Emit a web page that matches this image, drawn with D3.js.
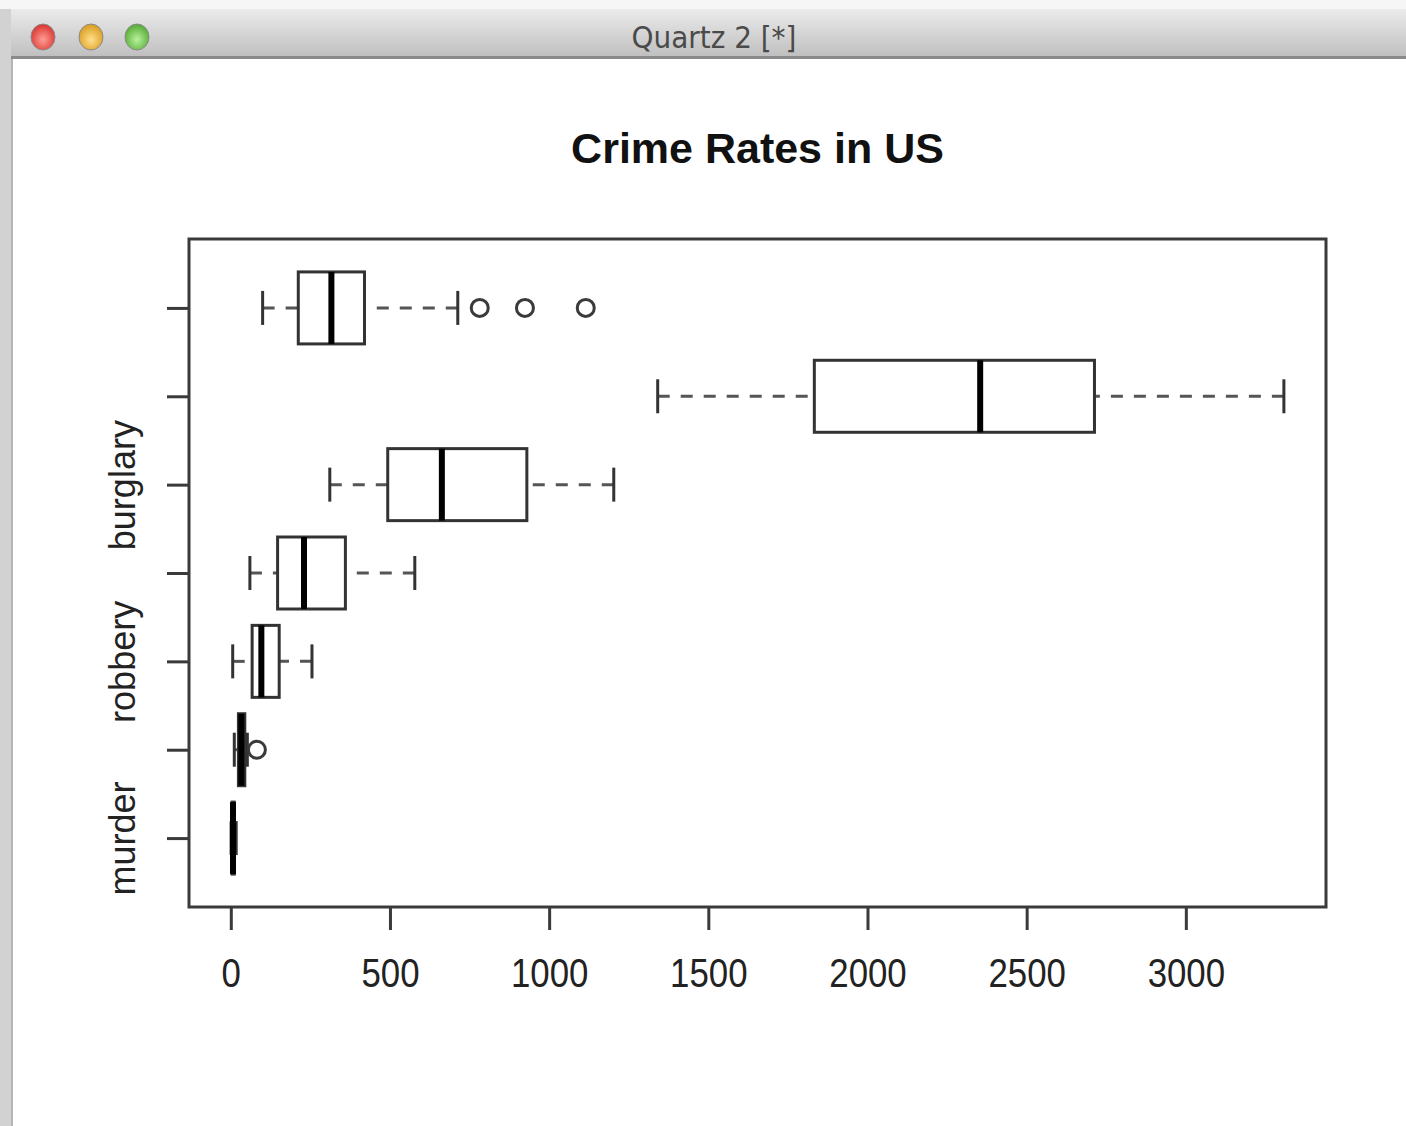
<!DOCTYPE html>
<head>
  <meta charset="utf-8">
  <style>
    body { margin: 0; background: #ffffff; }
    svg { display: block; }
    .frame { fill: none; stroke: #3a3a3a; stroke-width: 3px; }
    .axis path { display: none; }
    .axis line { stroke: #3a3a3a; stroke-width: 3px; }
    .axis text { font-family: "Liberation Sans", Arial, sans-serif; fill: #222; }
    .box { fill: none; stroke: #333; stroke-width: 3px; }
    .median { stroke: #000; stroke-width: 6px; }
    .whisker { stroke: #555; stroke-width: 3px; stroke-dasharray: 12, 11; }
    .staple { stroke: #333; stroke-width: 3px; }
    .outlier { fill: none; stroke: #3a3a3a; stroke-width: 3px; }
  </style>
</head>

<body>
  <svg></svg>
  <script src="https://d3js.org/d3.v7.min.js"></script>
  <script type="text/javascript">
    // boxplot stats, one entry per crime (bottom to top)
    var crimes = ["murder", "forcible_rape", "robbery", "aggravated_assault", "burglary", "larceny_theft", "motor_vehicle_theft"];
    var whiskerLow  = [1, 11, 6, 60, 311, 1341, 100];
    var lowerHinge  = [4, 24, 67, 147, 493, 1833, 212];
    var medians     = [7, 33, 96, 230, 663, 2354, 316];
    var upperHinge  = [11, 44, 152, 360, 930, 2713, 420];
    var whiskerHigh = [17, 52, 255, 578, 1203, 3308, 713];
    var outliers    = [[], [82], [], [], [], [], [782, 924, 1115]];
    var xTicks = [0, 500, 1000, 1500, 2000, 2500, 3000];
    var shownLabels = ["murder", "robbery", "burglary"];

    var width = 1406, height = 1126;
    var svg = d3.select('svg').attr('width', width).attr('height', height);

    // ---- window chrome ----
    var defs = svg.append('defs');
    var barGrad = defs.append('linearGradient').attr('id', 'bar').attr('x1', 0).attr('y1', 0).attr('x2', 0).attr('y2', 1);
    barGrad.append('stop').attr('offset', '0%').attr('stop-color', '#ebebeb');
    barGrad.append('stop').attr('offset', '100%').attr('stop-color', '#bfbfbf');

    var lights = [{x: 43, c1: '#ff9d96', c2: '#d8322c'}, {x: 91, c1: '#ffe08a', c2: '#d99a1e'}, {x: 137, c1: '#b8f29c', c2: '#52a832'}];
    lights.forEach(function(d, i) {
      var g = defs.append('radialGradient').attr('id', 'light' + i).attr('cx', '50%').attr('cy', '60%').attr('r', '60%');
      g.append('stop').attr('offset', '0%').attr('stop-color', d.c1);
      g.append('stop').attr('offset', '100%').attr('stop-color', d.c2);
    });

    svg.append('rect').attr('x', 0).attr('y', 0).attr('width', width).attr('height', 9).attr('fill', '#f6f6f6');
    svg.append('rect').attr('x', 0).attr('y', 9).attr('width', 11).attr('height', height - 9).attr('fill', '#d2d2d2');
    svg.append('rect').attr('x', 11).attr('y', 9).attr('width', 2).attr('height', height - 9).attr('fill', '#b5b5b5');
    svg.append('rect').attr('x', 11).attr('y', 9).attr('width', width - 11).attr('height', 48).attr('fill', 'url(#bar)');
    svg.append('rect').attr('x', 11).attr('y', 56).attr('width', width - 11).attr('height', 3).attr('fill', '#8a8a8a');

    svg.selectAll('.light').data(lights).enter().append('ellipse')
        .attr('cx', function(d) { return d.x })
        .attr('cy', 37)
        .attr('rx', 12).attr('ry', 13)
        .attr('fill', function(d, i) { return 'url(#light' + i + ')' })
        .attr('stroke', '#8a8a8a').attr('stroke-width', 1);

    svg.append('text')
        .attr('x', 714).attr('y', 48)
        .attr('text-anchor', 'middle')
        .style('font-family', '"DejaVu Sans Condensed", "Liberation Sans Narrow", sans-serif')
        .style('font-size', '31px')
        .style('fill', '#4a4a4a')
        .text('Quartz 2 [*]');

    // ---- plot ----
    var plot = {left: 189, right: 1326, top: 239, bottom: 907};

    // R style: extend data range by 4% on each side
    var lo = d3.min(whiskerLow), hi = d3.max(whiskerHigh.concat(d3.merge(outliers)));
    var pad = (hi - lo) * 0.04;
    var x = d3.scaleLinear().domain([lo - pad, hi + pad]).range([plot.left, plot.right]);
    var n = crimes.length;
    var ypad = n * 0.04;
    var y = d3.scaleLinear().domain([0.5 - ypad, n + 0.5 + ypad]).range([plot.bottom, plot.top]);

    var boxHalf = 36, stapleHalf = 17;

    svg.append('text')
        .attr('x', (plot.left + plot.right) / 2).attr('y', 163)
        .attr('text-anchor', 'middle')
        .style('font-family', '"Liberation Sans", Arial, sans-serif')
        .style('font-weight', 'bold')
        .style('font-size', '43px')
        .style('fill', '#111')
        .text('Crime Rates in US');

    svg.append('rect').classed('frame', true)
        .attr('x', plot.left).attr('y', plot.top)
        .attr('width', plot.right - plot.left).attr('height', plot.bottom - plot.top);

    var xAxis = svg.append('g').classed('axis', true)
        .attr('transform', 'translate(0,' + plot.bottom + ')')
        .call(d3.axisBottom(x).tickValues(xTicks).tickSize(23).tickSizeOuter(0).tickFormat(d3.format('d')));
    xAxis.selectAll('text')
        .attr('y', 80).attr('dy', 0)
        .attr('transform', 'scale(0.87,1)')
        .style('font-size', '40px');

    var yAxis = svg.append('g').classed('axis', true)
        .attr('transform', 'translate(' + plot.left + ',0)')
        .call(d3.axisLeft(y).tickValues(d3.range(1, n + 1)).tickSize(22).tickSizeOuter(0)
          .tickFormat(function(d) { var name = crimes[d - 1]; return shownLabels.indexOf(name) >= 0 ? name : '' }));
    yAxis.selectAll('text')
        .attr('x', 0).attr('y', -54).attr('dy', 0)
        .attr('text-anchor', 'middle')
        .attr('transform', 'rotate(-90)')
        .style('font-size', '36px');

    var rows = crimes.map(function(c, i) {
      return {name: c, pos: i + 1, wlo: whiskerLow[i], q1: lowerHinge[i], med: medians[i], q3: upperHinge[i], whi: whiskerHigh[i], out: outliers[i]};
    });

    var g = svg.append('g').selectAll('.row').data(rows).enter().append('g').classed('row', true);

    // whiskers drawn from the whisker end towards the box, like R
    g.append('line').classed('whisker', true)
        .attr('x1', function(d) { return x(d.wlo) }).attr('x2', function(d) { return x(d.q1) })
        .attr('y1', function(d) { return y(d.pos) }).attr('y2', function(d) { return y(d.pos) });
    g.append('line').classed('whisker', true)
        .attr('x1', function(d) { return x(d.whi) }).attr('x2', function(d) { return x(d.q3) })
        .attr('y1', function(d) { return y(d.pos) }).attr('y2', function(d) { return y(d.pos) });

    ['wlo', 'whi'].forEach(function(k) {
      g.append('line').classed('staple', true)
          .attr('x1', function(d) { return x(d[k]) }).attr('x2', function(d) { return x(d[k]) })
          .attr('y1', function(d) { return y(d.pos) - stapleHalf }).attr('y2', function(d) { return y(d.pos) + stapleHalf });
    });

    g.append('rect').classed('box', true)
        .attr('x', function(d) { return x(d.q1) })
        .attr('width', function(d) { return x(d.q3) - x(d.q1) })
        .attr('y', function(d) { return y(d.pos) - boxHalf })
        .attr('height', boxHalf * 2);

    g.append('line').classed('median', true)
        .attr('x1', function(d) { return x(d.med) }).attr('x2', function(d) { return x(d.med) })
        .attr('y1', function(d) { return y(d.pos) - boxHalf }).attr('y2', function(d) { return y(d.pos) + boxHalf });

    g.selectAll('.outlier').data(function(d) { return d.out.map(function(v) { return {v: v, pos: d.pos} }) })
        .enter().append('circle').classed('outlier', true)
        .attr('cx', function(d) { return x(d.v) })
        .attr('cy', function(d) { return y(d.pos) })
        .attr('r', 8.5);
  </script>
</body>
